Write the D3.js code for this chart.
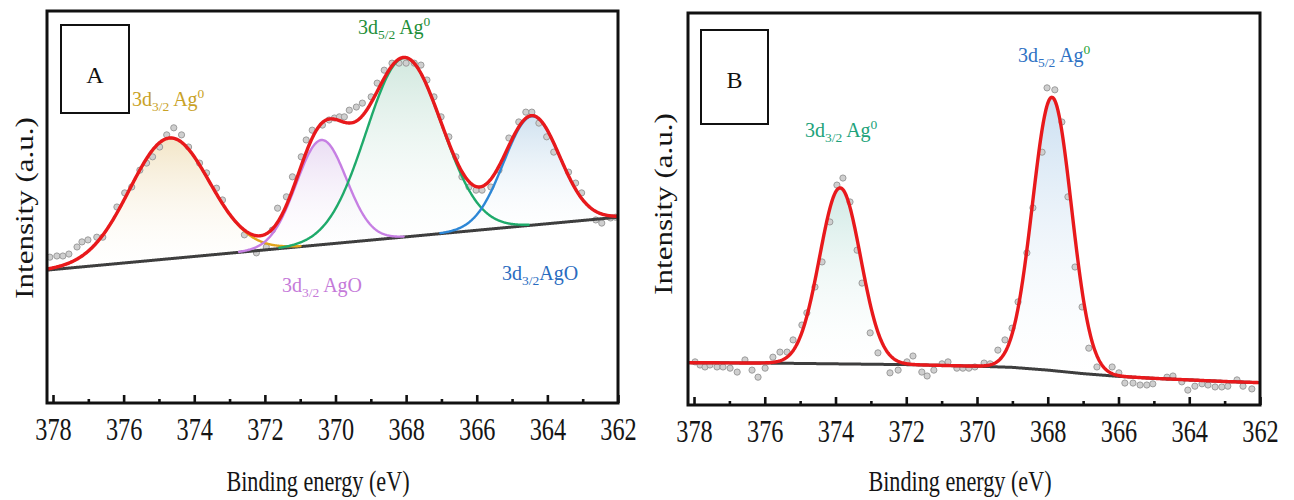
<!DOCTYPE html>
<html>
<head>
<meta charset="utf-8">
<script src="https://cdn.jsdelivr.net/npm/d3@7"></script>
<style>
  body { margin: 0; background: #fff; }
  svg { display: block; }
</style>
</head>
<body>
<svg id="chart" width="1294" height="500"></svg>
<script>
// ---------- shared axis values ----------
const energyTicks = [378, 376, 374, 372, 370, 368, 366, 364, 362];
const energyMinorTicks = [377, 375, 373, 371, 369, 367, 365, 363];
const energyDomain = [378.17, 362];

// ---------- panel A: Ag 3d region, four-component fit ----------
const aEnergy = [378.09,377.89,377.72,377.55,377.32,377.18,377.01,376.76,376.59,376.19,
  375.97,375.77,375.54,375.35,375.18,374.98,374.78,374.58,374.36,374.16,
  373.85,373.65,373.37,373.20,372.58,372.24,371.96,371.79,371.64,371.39,
  371.22,370.97,370.83,370.66,370.37,370.18,370.03,369.89,369.75,369.61,
  369.41,369.24,368.99,368.82,368.62,368.40,368.20,368.00,367.77,367.58,
  367.41,367.21,367.01,366.79,366.59,366.42,366.22,366.02,365.85,365.60,
  365.37,365.09,364.81,364.61,364.44,364.24,364.02,363.82,363.40,363.20,
  363.03,362.63,362.46,362.21,362.07];
const aCounts = [37.2,37.5,37.5,38.0,39.8,41.1,41.6,42.3,42.3,50.0,
  53.6,55.1,59.4,61.2,62.8,65.3,68.4,70.2,68.4,65.3,
  61.2,58.7,54.8,51.8,42.9,38.3,39.8,44.1,49.7,52.6,
  57.7,62.8,67.1,69.6,70.9,72.2,72.7,73.0,73.0,74.7,
  75.5,76.5,78.1,81.6,84.9,86.7,86.7,86.7,86.7,86.2,
  82.4,78.1,73.0,67.9,62.8,57.7,55.1,54.3,54.3,55.1,
  59.4,67.6,71.7,74.2,74.2,71.4,67.9,64.0,58.9,56.1,
  53.6,46.7,45.9,47.2,47.4];
const aBackgroundEnergy = [378.17, 362];
const aBackgroundCounts = [33.9, 47.4];
const aPeakCenter = [374.70, 370.40, 368.06, 364.44];
const aPeakHeight = [30.8, 26.7, 45.7, 27.8];
const aPeakWidth = [1.13, 0.71, 1.07, 0.79];   // gaussian sigma (eV)
const aPeakLabels = [
  ["3d", "3/2", " Ag", "0"],
  ["3d", "3/2", " AgO", ""],
  ["3d", "5/2", " Ag", "0"],
  ["3d", "3/2", "AgO", ""]
];

// ---------- panel B: Ag 3d doublet, two-component fit ----------
const bEnergy = [377.97,377.83,377.69,377.55,377.35,377.18,376.98,376.78,376.56,376.36,
  376.19,375.99,375.77,375.57,375.37,375.20,374.95,374.81,374.58,374.38,
  374.16,373.96,373.79,373.59,373.39,373.25,373.02,372.80,372.46,372.23,
  371.98,371.81,371.56,371.41,371.22,370.99,370.82,370.57,370.40,370.23,
  370.06,369.80,369.63,369.41,369.21,369.01,368.84,368.59,368.42,368.16,
  368.02,367.80,367.60,367.43,367.23,367.03,366.84,366.61,366.18,365.99,
  365.82,365.59,365.39,365.20,365.03,364.63,364.46,364.21,364.04,363.84,
  363.64,363.47,363.27,363.08,362.91,362.65,362.48,362.23];
const bCounts = [11.0,10.2,9.7,10.2,9.7,9.7,9.4,8.4,11.5,8.9,
  7.1,9.4,12.2,13.5,13.5,16.6,20.4,23.5,30.1,36.5,
  46.7,56.1,57.9,51.8,39.5,31.1,18.4,13.3,8.2,8.9,
  11.0,12.5,8.4,7.4,8.9,10.5,11.0,9.4,9.4,9.4,
  9.7,10.7,10.5,14.0,16.6,19.6,26.3,38.8,50.3,64.5,
  80.9,80.4,72.2,53.1,35.2,25.0,14.5,9.7,9.7,8.2,
  5.6,5.6,5.1,5.1,5.4,7.1,7.4,5.9,3.8,4.8,
  5.4,5.1,4.6,4.6,4.8,6.4,4.8,4.1];
const bBackgroundEnergy = [378.17, 376, 374, 372, 370, 369, 368, 367, 366, 365, 364, 363, 362];
const bBackgroundCounts = [10.8, 10.7, 10.5, 10.3, 9.9, 9.6, 8.9, 8.0, 7.3, 6.8, 6.4, 6.0, 5.7];
const bPeakCenter = [373.87, 367.88];
const bPeakHeight = [44.9, 69.7];
const bPeakWidth = [0.58, 0.55];
const bPeakLabels = [
  ["3d", "3/2", " Ag", "0"],
  ["3d", "5/2", " Ag", "0"]
];

// ---------- drawing ----------
const svg = d3.select("#chart");
const defs = svg.append("defs");
const SERIF = "'Liberation Serif', 'Times New Roman', Times, serif";

function gaussian(e, c, h, w) {
  const z = (e - c) / w;
  return h * Math.exp(-0.5 * z * z);
}

function addGradient(id, color) {
  const g = defs.append("linearGradient").attr("id", id)
    .attr("x1", 0).attr("y1", 0).attr("x2", 0).attr("y2", 1);
  g.append("stop").attr("offset", "0%").attr("stop-color", color).attr("stop-opacity", 0.95);
  g.append("stop").attr("offset", "100%").attr("stop-color", "#ffffff").attr("stop-opacity", 0.2);
}

// label with subscript / superscript parts: [main, sub, main2, sup]
function peakLabel(g, x, y, parts, color, supColor) {
  const size = 20, small = 13.5;
  const t = g.append("text")
    .attr("x", x).attr("y", y)
    .attr("font-family", SERIF)
    .attr("font-size", size)
    .attr("fill", color);
  t.append("tspan").text(parts[0]);
  t.append("tspan").attr("font-size", small).attr("dy", 5).text(parts[1]);
  t.append("tspan").attr("dy", -5).text(parts[2]);
  if (parts[3]) {
    t.append("tspan").attr("font-size", small).attr("dy", -8)
      .attr("fill", supColor || color).text(parts[3]);
  }
}

function drawPanel(p) {
  const g = svg.append("g");
  const x = d3.scaleLinear().domain(energyDomain).range(p.xRange);
  const y = d3.scaleLinear().domain([0, 100]).range(p.yRange);
  const bg = d3.scaleLinear().domain(p.bgEnergy).range(p.bgCounts);

  const grid = d3.range(energyDomain[0], energyDomain[1] - 0.001, -0.02);

  g.append("clipPath").attr("id", p.id + "-clip")
    .append("rect")
    .attr("x", p.xRange[0]).attr("y", p.yRange[1])
    .attr("width", p.xRange[1] - p.xRange[0])
    .attr("height", p.yRange[0] - p.yRange[1]);

  const plot = g.append("g").attr("clip-path", `url(#${p.id}-clip)`);

  // shaded component areas
  p.centers.forEach((c, i) => {
    const gid = `${p.id}-grad-${i}`;
    addGradient(gid, p.fills[i]);
    const area = d3.area()
      .x(e => x(e))
      .y0(e => y(bg(e)))
      .y1(e => y(bg(e) + gaussian(e, c, p.heights[i], p.widths[i])))
      .curve(d3.curveLinear);
    const seg = grid.filter(e => Math.abs(e - c) < p.widths[i] * 4);
    plot.append("path").datum(seg)
      .attr("d", area)
      .attr("fill", `url(#${gid})`);
  });

  // measured points
  plot.selectAll("circle.pt").data(p.energy.map((e, i) => [e, p.counts[i]]))
    .join("circle")
    .attr("class", "pt")
    .attr("cx", d => x(d[0]))
    .attr("cy", d => y(d[1]))
    .attr("r", 3.1)
    .attr("fill", "#cfcfcf")
    .attr("stroke", "#9c9c9c")
    .attr("stroke-width", 1);

  // background
  const bgLine = d3.line().x(e => x(e)).y(e => y(bg(e))).curve(d3.curveMonotoneX);
  plot.append("path").datum(grid)
    .attr("d", bgLine)
    .attr("fill", "none")
    .attr("stroke", "#3e3e3e")
    .attr("stroke-width", 3);

  // component curves
  if (p.lines) {
    p.centers.forEach((c, i) => {
      const line = d3.line()
        .x(e => x(e))
        .y(e => y(bg(e) + gaussian(e, c, p.heights[i], p.widths[i])));
      const seg = grid.filter(e => Math.abs(e - c) < p.widths[i] * 3.3);
      plot.append("path").datum(seg)
        .attr("d", line)
        .attr("fill", "none")
        .attr("stroke", p.lines[i])
        .attr("stroke-width", 2.4)
        .attr("stroke-linecap", "round");
    });
  }

  // envelope
  const env = d3.line()
    .x(e => x(e))
    .y(e => y(bg(e) + d3.sum(p.centers, (c, i) => gaussian(e, c, p.heights[i], p.widths[i]))));
  plot.append("path").datum(grid)
    .attr("d", env)
    .attr("fill", "none")
    .attr("stroke", "#e8191c")
    .attr("stroke-width", 3.4)
    .attr("stroke-linejoin", "round");

  // bottom axis: major ticks with labels, inward
  const axis = g.append("g")
    .attr("transform", `translate(0,${p.yRange[0]})`)
    .call(d3.axisBottom(x).tickValues(energyTicks).tickFormat(d3.format("d"))
      .tickSizeInner(-8).tickSizeOuter(0).tickPadding(14));
  axis.attr("font-family", null);
  axis.select(".domain").remove();
  axis.selectAll(".tick line").attr("stroke", "#111").attr("stroke-width", 2.6);
  axis.selectAll(".tick text")
    .style("font-family", SERIF)
    .attr("font-size", 32)
    .attr("fill", "#151515")
    .attr("transform", "scale(0.76,1)");

  const minor = g.append("g")
    .attr("transform", `translate(0,${p.yRange[0]})`)
    .call(d3.axisBottom(x).tickValues(energyMinorTicks).tickFormat("")
      .tickSizeInner(-4).tickSizeOuter(0));
  minor.select(".domain").remove();
  minor.selectAll(".tick line").attr("stroke", "#111").attr("stroke-width", 2.6);

  // frame
  g.append("rect")
    .attr("x", p.xRange[0]).attr("y", p.yRange[1])
    .attr("width", p.xRange[1] - p.xRange[0])
    .attr("height", p.yRange[0] - p.yRange[1])
    .attr("fill", "none")
    .attr("stroke", "#111")
    .attr("stroke-width", 3);

  // panel letter box
  g.append("rect")
    .attr("x", p.box[0]).attr("y", p.box[1])
    .attr("width", p.box[2]).attr("height", p.box[3])
    .attr("fill", "#fff").attr("stroke", "#111").attr("stroke-width", 2);
  g.append("text")
    .attr("x", p.box[0] + p.box[2] / 2).attr("y", p.letterY)
    .attr("text-anchor", "middle")
    .attr("font-family", SERIF).attr("font-size", 24).attr("fill", "#111")
    .text(p.letter);

  // axis titles
  g.append("text")
    .attr("transform", `translate(${p.xTitle[0]},${p.xTitle[1]}) scale(0.74,1)`)
    .attr("text-anchor", "middle")
    .attr("font-family", SERIF).attr("font-size", 30).attr("fill", "#151515")
    .text("Binding energy (eV)");
  g.append("text")
    .attr("transform", `translate(${p.yTitle[0]},${p.yTitle[1]}) rotate(-90) scale(1,0.8)`)
    .attr("text-anchor", "middle")
    .attr("font-family", SERIF).attr("font-size", 31).attr("fill", "#151515")
    .text("Intensity (a.u.)");

  return g;
}

const gA = drawPanel({
  id: "a", xRange: [47, 618], yRange: [403, 11],
  energy: aEnergy, counts: aCounts,
  bgEnergy: aBackgroundEnergy, bgCounts: aBackgroundCounts,
  centers: aPeakCenter, heights: aPeakHeight, widths: aPeakWidth,
  fills: ["#f2e4c4", "#e9dbf3", "#cfe7dd", "#cde0ef"],
  lines: ["#e3a51c", "#c67fe3", "#1faa6b", "#2d87d6"],
  box: [61, 25, 68, 88], letter: "A", letterY: 83,
  xTitle: [318, 491], yTitle: [33, 208]
});
peakLabel(gA, 132, 106, aPeakLabels[0], "#c9a227");
peakLabel(gA, 282, 292, aPeakLabels[1], "#c57ad9");
peakLabel(gA, 358, 34, aPeakLabels[2], "#1f8f3a");
peakLabel(gA, 502, 280, aPeakLabels[3], "#2a6cbf");

const gB = drawPanel({
  id: "b", xRange: [688, 1260], yRange: [405, 13],
  energy: bEnergy, counts: bCounts,
  bgEnergy: bBackgroundEnergy, bgCounts: bBackgroundCounts,
  centers: bPeakCenter, heights: bPeakHeight, widths: bPeakWidth,
  fills: ["#cde8e3", "#c8ddf0"],
  lines: null,
  box: [701, 30, 67, 94], letter: "B", letterY: 88,
  xTitle: [960, 491], yTitle: [672, 204]
});
peakLabel(gB, 805, 137, bPeakLabels[0], "#21a27a");
peakLabel(gB, 1018, 62, bPeakLabels[1], "#2f72c4", "#2aa33a");
</script>
</body>
</html>
